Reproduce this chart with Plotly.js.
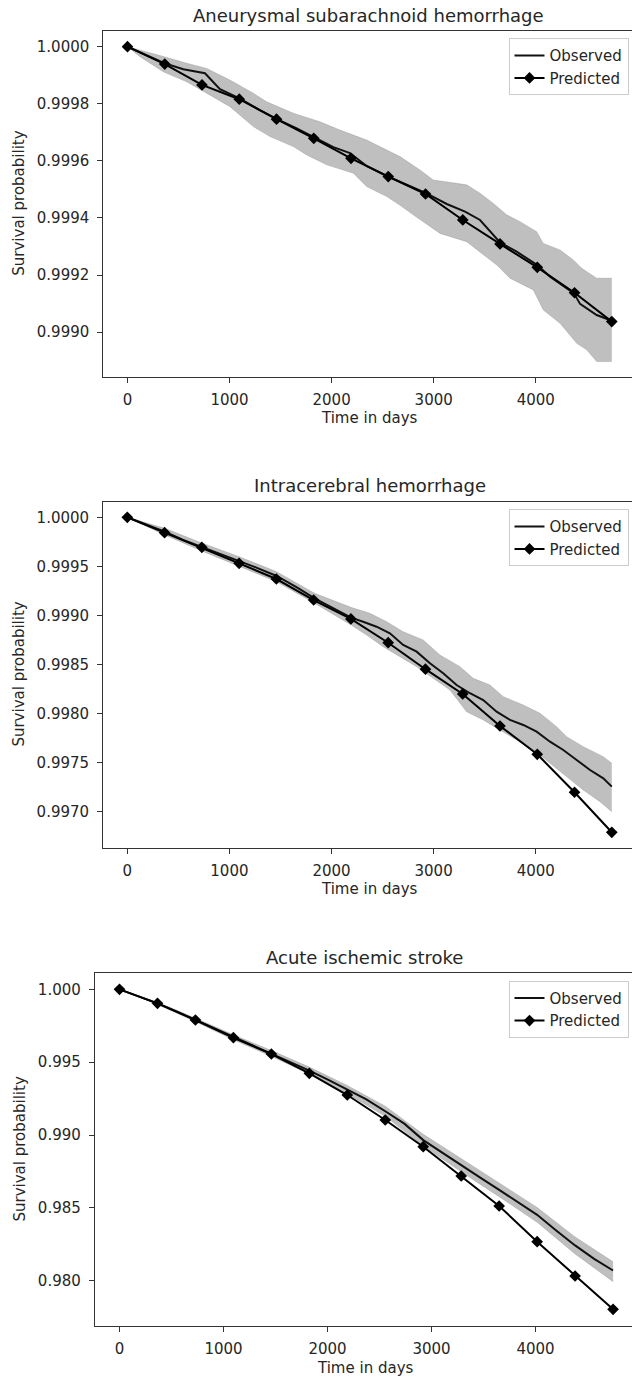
<!DOCTYPE html>
<html>
<head>
<meta charset="utf-8">
<script src="https://cdn.plot.ly/plotly-3.0.1.min.js"></script>
<style>
  html, body { margin: 0; padding: 0; background: #ffffff; overflow: hidden; }
  #chart { width: 632px; height: 1379px; }
</style>
</head>
<body>
<div id="chart"></div>
<script>
// Yearly time points of the model prediction (days)
const predDays = [0, 365, 730, 1095, 1460, 1825, 2190, 2555, 2920, 3285, 3650, 4015, 4380, 4745];

// --- Aneurysmal subarachnoid hemorrhage ---
const sahPred = [1.0, 0.999939, 0.999866, 0.999816, 0.999746, 0.999679, 0.999609, 0.999545, 0.999484, 0.999393, 0.999309, 0.999227, 0.999138, 0.999037];
const sahObsDays = [0, 188, 361, 547, 759, 906, 1102, 1298, 1455, 1658, 1837, 2017, 2180, 2343, 2540, 2768, 2925, 3128, 3307, 3454, 3650, 3813, 4015, 4140, 4238, 4375, 4434, 4597, 4745];
const sahObs = [1.0, 0.999971, 0.999942, 0.999921, 0.999907, 0.999851, 0.999818, 0.999778, 0.999748, 0.999714, 0.99968, 0.999648, 0.999627, 0.999582, 0.999547, 0.99951, 0.999487, 0.999449, 0.999422, 0.999393, 0.999314, 0.999282, 0.999235, 0.999194, 0.999171, 0.999136, 0.999099, 0.99906, 0.99904];
const sahUpperDays = [0, 188, 361, 580, 776, 1004, 1233, 1364, 1625, 1886, 2082, 2343, 2670, 2866, 2996, 3323, 3454, 3585, 3715, 3846, 4009, 4074, 4238, 4368, 4450, 4597, 4745];
const sahUpper = [1.0, 0.999983, 0.999965, 0.999942, 0.999924, 0.999883, 0.999837, 0.999807, 0.999767, 0.999737, 0.999708, 0.999673, 0.999615, 0.999568, 0.999533, 0.999516, 0.999487, 0.999451, 0.999411, 0.999387, 0.999352, 0.999311, 0.999288, 0.999253, 0.999224, 0.999189, 0.999189];
const sahLowerDays = [0, 122, 351, 580, 776, 1004, 1233, 1396, 1625, 1756, 1952, 2213, 2343, 2540, 2670, 2800, 3062, 3323, 3618, 3748, 3976, 4074, 4238, 4401, 4499, 4597, 4745];
const sahLower = [1.0, 0.999965, 0.999912, 0.999877, 0.999837, 0.99979, 0.99972, 0.999685, 0.99965, 0.999621, 0.999586, 0.999557, 0.99951, 0.999475, 0.999445, 0.999411, 0.999346, 0.999317, 0.999235, 0.999189, 0.999148, 0.999078, 0.999031, 0.998961, 0.998938, 0.998897, 0.998897];

// --- Intracerebral hemorrhage ---
const ichPred = [1.0, 0.999843, 0.999694, 0.999531, 0.999371, 0.999157, 0.998964, 0.998722, 0.998452, 0.9982, 0.997873, 0.997585, 0.997198, 0.99679];
const ichObsDays = [0, 367, 547, 723, 920, 1095, 1258, 1462, 1665, 1834, 2004, 2197, 2310, 2441, 2572, 2702, 2834, 2964, 3094, 3225, 3356, 3486, 3617, 3748, 3878, 4009, 4140, 4270, 4401, 4532, 4662, 4745];
const ichObs = [1.0, 0.999853, 0.999769, 0.9997, 0.999623, 0.999555, 0.99949, 0.999402, 0.999283, 0.999175, 0.999079, 0.998975, 0.998936, 0.998885, 0.998818, 0.998699, 0.998631, 0.998512, 0.99841, 0.998291, 0.998207, 0.998138, 0.998019, 0.997935, 0.997884, 0.997815, 0.997713, 0.997629, 0.997527, 0.997425, 0.99734, 0.997255];
const ichUpperDays = [0, 367, 723, 1095, 1462, 1834, 2197, 2376, 2540, 2702, 2898, 3062, 3258, 3388, 3552, 3683, 3878, 4042, 4205, 4303, 4466, 4662, 4745];
const ichUpper = [1.0, 0.999888, 0.999741, 0.999599, 0.999446, 0.999226, 0.99908, 0.999022, 0.998936, 0.998834, 0.99875, 0.998597, 0.998478, 0.998359, 0.998291, 0.998172, 0.998087, 0.998003, 0.997866, 0.997764, 0.997663, 0.997561, 0.997493];
const ichLowerDays = [0, 367, 723, 1095, 1462, 1834, 2197, 2343, 2506, 2670, 2834, 2996, 3160, 3323, 3486, 3650, 3813, 3976, 4140, 4303, 4466, 4630, 4745];
const ichLower = [1.0, 0.99982, 0.99966, 0.999504, 0.999344, 0.999124, 0.9989, 0.998801, 0.998681, 0.99858, 0.998478, 0.998359, 0.99824, 0.998019, 0.997935, 0.997833, 0.997731, 0.997629, 0.997493, 0.997357, 0.997221, 0.997102, 0.997];

// --- Acute ischemic stroke ---
const aisPred = [1.0, 0.999039, 0.997893, 0.996678, 0.995559, 0.994235, 0.992745, 0.99103, 0.989197, 0.987186, 0.985127, 0.982677, 0.980323, 0.978037];
const aisObsDays = [0, 183, 365, 548, 730, 913, 1095, 1278, 1460, 1643, 1825, 2008, 2190, 2373, 2555, 2738, 2920, 3103, 3285, 3468, 3650, 3833, 4015, 4198, 4380, 4563, 4745];
const aisObs = [1.0, 0.99952, 0.99904, 0.99848, 0.9979, 0.99731, 0.99671, 0.99614, 0.9956, 0.99499, 0.99442, 0.99378, 0.99312, 0.99245, 0.99163, 0.99078, 0.98965, 0.98878, 0.98791, 0.98708, 0.98624, 0.98535, 0.98452, 0.98345, 0.98242, 0.9815, 0.9807];
const aisUpper = [1.0, 0.99912, 0.99802, 0.99688, 0.9958, 0.99466, 0.9934, 0.99198, 0.99005, 0.98835, 0.98671, 0.98503, 0.983, 0.9813];
const aisLower = [1.0, 0.99896, 0.99778, 0.99654, 0.9954, 0.99418, 0.99284, 0.99128, 0.98925, 0.98747, 0.98577, 0.98401, 0.98184, 0.97993];

const panelTitles = ['Aneurysmal subarachnoid hemorrhage', 'Intracerebral hemorrhage', 'Acute ischemic stroke'];
const xTickVals = [0, 1000, 2000, 3000, 4000];
const seriesNames = ['Observed', 'Predicted'];

const FONT = 'DejaVu Sans, Verdana, sans-serif';
const TEXT = '#262626';
const AXIS = '#333333';
const W = 632, H = 1379;

function panelTraces(k, lowX, lowY, upX, upY, obsX, obsY, predY) {
  const xa = k === 1 ? 'x' : 'x' + k;
  const ya = k === 1 ? 'y' : 'y' + k;
  const lg = k === 1 ? 'legend' : 'legend' + k;
  const band = 'rgba(128,128,128,0.5)';
  return [
    { x: lowX, y: lowY, xaxis: xa, yaxis: ya, type: 'scatter', mode: 'lines',
      line: { color: band, width: 0.6 }, showlegend: false, legend: lg, hoverinfo: 'skip' },
    { x: upX, y: upY, xaxis: xa, yaxis: ya, type: 'scatter', mode: 'lines',
      fill: 'tonexty', fillcolor: band,
      line: { color: band, width: 0.6 }, showlegend: false, legend: lg, hoverinfo: 'skip' },
    { x: obsX, y: obsY, xaxis: xa, yaxis: ya, type: 'scatter', mode: 'lines',
      name: seriesNames[0], legend: lg,
      line: { color: '#111111', width: 2 } },
    { x: predDays, y: predY, xaxis: xa, yaxis: ya, type: 'scatter', mode: 'lines+markers',
      name: seriesNames[1], legend: lg,
      line: { color: '#000000', width: 2 },
      marker: { symbol: 'diamond', size: 9, color: '#000000' } }
  ];
}

const data = []
  .concat(panelTraces(1, sahLowerDays, sahLower, sahUpperDays, sahUpper, sahObsDays, sahObs, sahPred))
  .concat(panelTraces(2, ichLowerDays, ichLower, ichUpperDays, ichUpper, ichObsDays, ichObs, ichPred))
  .concat(panelTraces(3, predDays, aisLower, predDays, aisUpper, aisObsDays, aisObs, aisPred));

// pixel boxes of the three plot areas: [left, top, bottom]
const boxes = [[103.3, 30.7, 376.7], [103.1, 501.7, 847.5], [94.8, 973.3, 1325.7]];

function xAxis(i, range) {
  const b = boxes[i];
  return {
    domain: [b[0] / W, 1], range: range, anchor: i === 0 ? 'y' : 'y' + (i + 1),
    tickvals: xTickVals, ticks: 'outside', ticklen: 5, tickwidth: 1, tickcolor: AXIS,
    ticklabelstandoff: 4,
    showline: true, linecolor: AXIS, linewidth: 1, mirror: true,
    showgrid: false, zeroline: false,
    tickfont: { family: FONT, size: 15, color: TEXT }
  };
}
function yAxis(i, range, dtick, fmt) {
  const b = boxes[i];
  return {
    domain: [1 - b[2] / H, 1 - b[1] / H], range: range, anchor: i === 0 ? 'x' : 'x' + (i + 1),
    tick0: 1, dtick: dtick, tickformat: fmt,
    ticks: 'outside', ticklen: 5, tickwidth: 1, tickcolor: AXIS,
    ticklabelstandoff: 5,
    showline: true, linecolor: AXIS, linewidth: 1, mirror: false,
    showgrid: false, zeroline: false,
    tickfont: { family: FONT, size: 15, color: TEXT }
  };
}
function legendAt(i) {
  return {
    x: 628.5 / W, xanchor: 'right', y: 1 - (boxes[i][1] + 7.5) / H, yanchor: 'top',
    bgcolor: 'rgba(255,255,255,0.8)', bordercolor: '#cccccc', borderwidth: 1,
    font: { family: FONT, size: 15, color: TEXT }, itemwidth: 30, tracegroupgap: 0,
    traceorder: 'normal'
  };
}

const annotations = [];
const titleCenters = [[368.8, 15.5], [369.5, 485.5], [364.8, 957.5]];
const xLabelY = [418, 889, 1368];
panelTitles.forEach((t, i) => {
  annotations.push({ text: t, xref: 'paper', yref: 'paper', showarrow: false,
    x: titleCenters[i][0] / W, y: 1 - titleCenters[i][1] / H, xanchor: 'center', yanchor: 'middle',
    font: { family: FONT, size: 18, color: TEXT } });
  annotations.push({ text: 'Time in days', xref: 'paper', yref: 'paper', showarrow: false,
    x: (boxes[i][0] + 636) / 2 / W, y: 1 - xLabelY[i] / H, xanchor: 'center', yanchor: 'middle',
    font: { family: FONT, size: 15, color: TEXT } });
  annotations.push({ text: 'Survival probability', xref: 'paper', yref: 'paper', showarrow: false,
    x: 19 / W, y: 1 - (boxes[i][1] + boxes[i][2]) / 2 / H, xanchor: 'center', yanchor: 'middle',
    textangle: -90, font: { family: FONT, size: 15, color: TEXT } });
});

const layout = {
  width: W, height: H,
  margin: { l: 0, r: 0, t: 0, b: 0 },
  paper_bgcolor: '#ffffff', plot_bgcolor: '#ffffff',
  font: { family: FONT, color: TEXT },
  showlegend: true,
  xaxis: xAxis(0, [-237, 4943]),
  yaxis: yAxis(0, [0.998844, 1.000056], 0.0002, '.4f'),
  xaxis2: xAxis(1, [-237, 4943]),
  yaxis2: yAxis(1, [0.996635, 1.000159], 0.0005, '.4f'),
  xaxis3: xAxis(2, [-237.5, 4927]),
  yaxis3: yAxis(2, [0.976911, 1.0011], 0.005, '.3f'),
  legend: legendAt(0),
  legend2: legendAt(1),
  legend3: legendAt(2),
  annotations: annotations
};

Plotly.newPlot('chart', data, layout, { staticPlot: true, displayModeBar: false });
</script>
</body>
</html>
